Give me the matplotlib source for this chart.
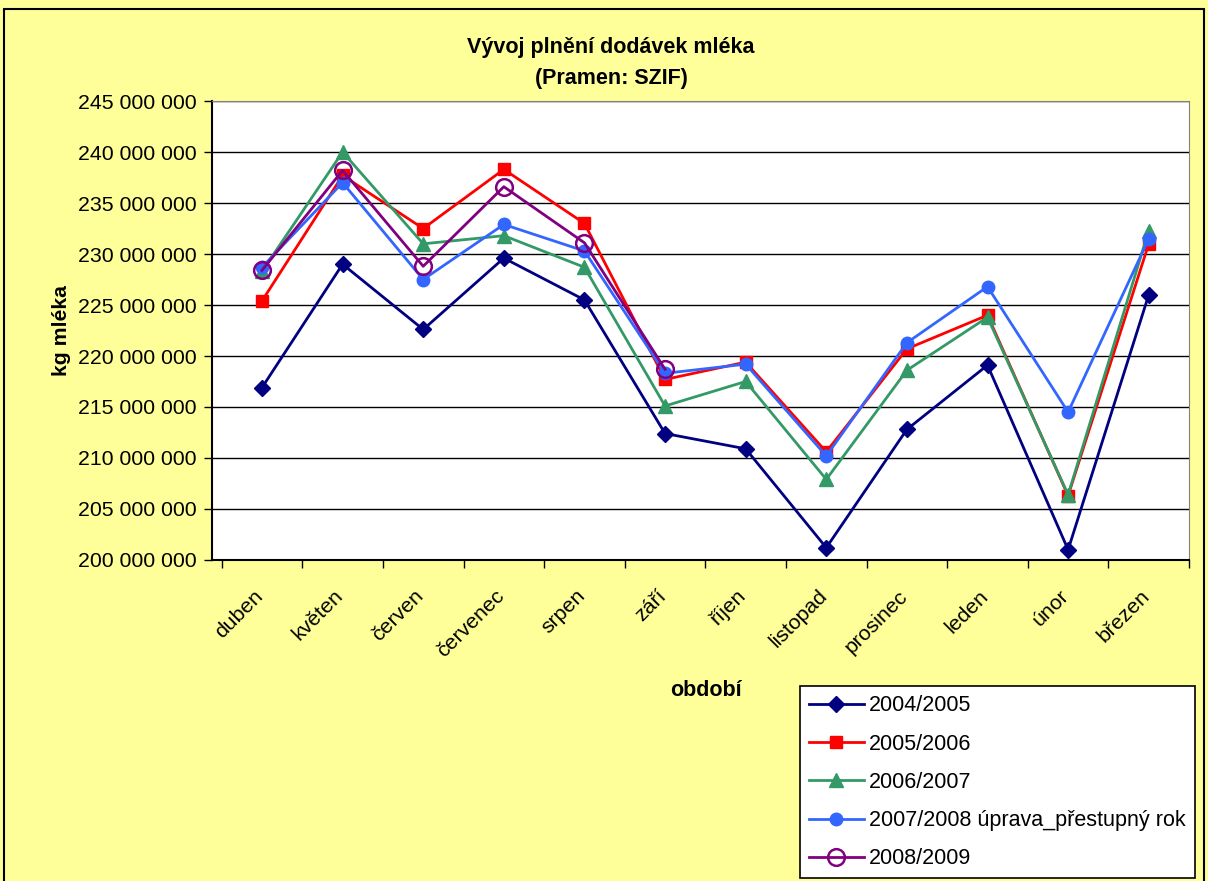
import numpy as np
import matplotlib
matplotlib.use('Agg')
import matplotlib.pyplot as plt
import matplotlib.transforms as mtransforms
from matplotlib.ticker import FuncFormatter, FixedLocator
from matplotlib.patches import Rectangle

plt.rcParams['font.family'] = ['Liberation Sans', 'DejaVu Sans']

months = ['duben', 'květen', 'červen', 'červenec', 'srpen', 'září',
          'říjen', 'listopad', 'prosinec', 'leden', 'únor', 'březen']

# values in millions of kg
s2004 = [216.9, 229.0, 222.6, 229.6, 225.5, 212.4, 210.9, 201.2, 212.8, 219.1, 201.0, 226.0]
s2005 = [225.4, 237.7, 232.5, 238.3, 233.0, 217.7, 219.4, 210.6, 220.7, 224.0, 206.3, 231.0]
s2006 = [228.3, 240.0, 231.0, 231.8, 228.7, 215.1, 217.5, 207.9, 218.6, 223.8, 206.4, 232.3]
s2007 = [228.7, 237.0, 227.5, 232.9, 230.3, 218.3, 219.2, 210.2, 221.3, 226.8, 214.5, 231.5]
s2008 = [228.4, 238.2, 228.8, 236.6, 231.1, 218.7]

labels = ['2004/2005', '2005/2006', '2006/2007',
          '2007/2008 úprava_přestupný rok', '2008/2009']

fig = plt.figure(figsize=(12.08, 8.81), dpi=100, facecolor='#FFFF99')
fig.patches.append(Rectangle((0.003, -0.01), 0.994, 1.0,
                             transform=fig.transFigure, fill=False,
                             edgecolor='black', linewidth=1.5))
ax = fig.add_axes([0.1755, 0.3644, 0.8088, 0.5209])
ax.set_facecolor('white')

x = np.arange(len(months))
scale = 1e6
ax.plot(x, np.array(s2004) * scale, color='#000080', marker='D', markersize=8, lw=2, label=labels[0])
ax.plot(x, np.array(s2005) * scale, color='#FF0000', marker='s', markersize=9, lw=2, label=labels[1])
ax.plot(x, np.array(s2006) * scale, color='#339966', marker='^', markersize=10, lw=2, label=labels[2])
ax.plot(x, np.array(s2007) * scale, color='#3366FF', marker='o', markersize=9, lw=2, label=labels[3])
ax.plot(x[:len(s2008)], np.array(s2008) * scale, color='#800080', marker='o', markersize=12,
        markerfacecolor='none', markeredgewidth=1.8, lw=2, label=labels[4])

ax.set_xlim(-0.62, 11.5)
ax.set_ylim(200e6, 245e6)
ax.set_yticks(np.arange(200e6, 245e6 + 1, 5e6))
ax.yaxis.set_major_formatter(FuncFormatter(lambda v, p: f'{int(round(v)):,}'.replace(',', ' ')))
ax.grid(axis='y', color='black', lw=1)
ax.set_axisbelow(True)

ax.set_xticks(x)
ax.set_xticklabels(months, rotation=45, ha='right', rotation_mode='anchor')
ax.tick_params(axis='x', which='major', length=0, pad=19, labelsize=15.3)
offset = mtransforms.ScaledTranslation(-9 / 100, 0, fig.dpi_scale_trans)
for lab in ax.get_xticklabels():
    lab.set_transform(lab.get_transform() + offset)
ax.xaxis.set_minor_locator(FixedLocator(np.arange(-0.5, 12, 1)))
ax.tick_params(axis='x', which='minor', length=6, width=1)
ax.tick_params(axis='y', labelsize=15.3, length=6, width=1, pad=5)

for side in ['top', 'right']:
    ax.spines[side].set_color('#808080')
for side in ['left', 'bottom']:
    ax.spines[side].set_color('black')
    ax.spines[side].set_linewidth(1.5)

fig.text(0.506, 0.946, 'Vývoj plnění dodávek mléka', ha='center', va='center',
         fontsize=15.5, fontweight='bold')
fig.text(0.506, 0.911, '(Pramen: SZIF)', ha='center', va='center',
         fontsize=15.5, fontweight='bold')
fig.text(0.051, 0.625, 'kg mléka', rotation=90, ha='center', va='center',
         fontsize=15.3, fontweight='bold')
fig.text(0.584, 0.216, 'období', ha='center', va='center',
         fontsize=15.5, fontweight='bold')

leg = fig.legend(loc='lower left', bbox_to_anchor=(0.662, 0.003), fontsize=15.5,
                 frameon=True, fancybox=False, edgecolor='black', framealpha=1,
                 handlelength=2.55, labelspacing=0.8, borderpad=0.42, handletextpad=0.25,
                 borderaxespad=0)
leg.get_frame().set_linewidth(1.2)

fig.savefig('out.png', dpi=100, facecolor=fig.get_facecolor())
